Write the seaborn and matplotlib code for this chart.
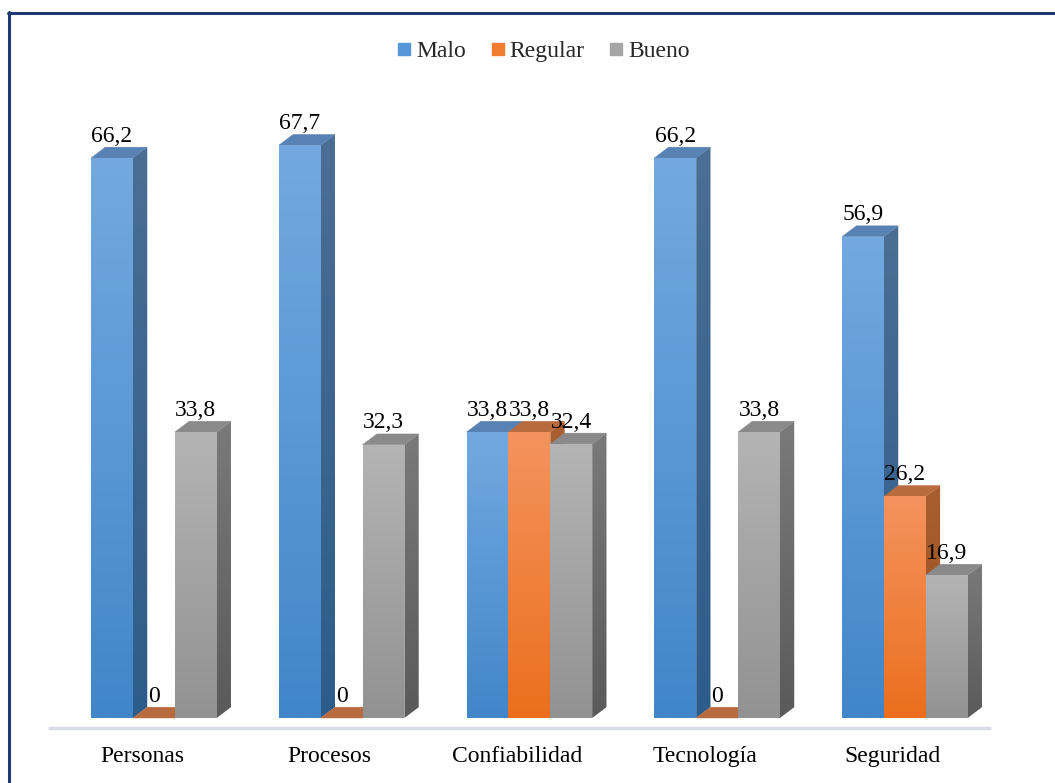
import numpy as np
import pandas as pd
import matplotlib
matplotlib.use("Agg")
import matplotlib.pyplot as plt
import seaborn as sns
from matplotlib.patches import Polygon
from matplotlib.lines import Line2D
from matplotlib.colors import LinearSegmentedColormap

# Data
dimensiones = ["Personas", "Procesos", "Confiabilidad", "Tecnología", "Seguridad"]
niveles = ["Malo", "Regular", "Bueno"]
malo = [66.2, 67.7, 33.8, 66.2, 56.9]
regular = [0, 0, 33.8, 0, 26.2]
bueno = [33.8, 32.3, 32.4, 33.8, 16.9]

df = pd.DataFrame({
    "Dimensión": dimensiones * 3,
    "Nivel": [n for n in niveles for _ in dimensiones],
    "Porcentaje": malo + regular + bueno,
})

# Face colours per level: front (bottom, top), side (bottom, top), top face
estilos = {
    "Malo":    dict(front=("#4186C9", "#73A9E0"), side=("#2E5C8A", "#4B6E94"), top="#5882B3", legend="#5597D8"),
    "Regular": dict(front=("#EB6F1D", "#F4935E"), side=("#964D1C", "#AA5F31"), top="#B96B3F", legend="#F07C2F"),
    "Bueno":   dict(front=("#929292", "#B4B4B4"), side=("#5A5A5A", "#7A7A7A"), top="#8A8A8A", legend="#A5A5A5"),
}

sns.set_theme(style="white")
plt.rcParams["font.family"] = ["Liberation Serif", "DejaVu Serif"]
FS = 17

W, H = 1055, 783
fig = plt.figure(figsize=(W / 100, H / 100), dpi=100)

# Axes geometry (pixels)
ppu = 8.46          # pixels per percentage point
base_px = 718       # pixel row of value 0
top_px = 92
ymin = -1.5
ymax = (base_px - top_px) / ppu
bottom_px = base_px - ymin * ppu
left_px, right_px = 48, 986.75
ax = fig.add_axes([left_px / W, (H - bottom_px) / H,
                   (right_px - left_px) / W, (bottom_px - top_px) / H])

sns.barplot(data=df, x="Dimensión", y="Porcentaje", hue="Nivel",
            order=dimensiones, hue_order=niveles,
            palette=[estilos[n]["legend"] for n in niveles],
            width=0.669, dodge=True, saturation=1, errorbar=None,
            legend=False, ax=ax)

slot_px = (right_px - left_px) / 5
shift = 12 / slot_px          # bars sit slightly right of the category centre
dx = 14.3 / slot_px           # depth offset, x
dy = 10.8 / ppu               # depth offset, y

grad = np.linspace(0, 1, 256).reshape(-1, 1)


def gradient_face(verts, c_bottom, c_top, y0, y1, z):
    poly = Polygon(verts, closed=True, facecolor="none", edgecolor="none",
                   transform=ax.transData, zorder=z)
    ax.add_patch(poly)
    xs = [v[0] for v in verts]
    cmap = LinearSegmentedColormap.from_list("g", [c_bottom, c_top])
    im = ax.imshow(grad, extent=[min(xs), max(xs), y0, y1], origin="lower",
                   aspect="auto", cmap=cmap, zorder=z, interpolation="bilinear")
    im.set_clip_path(poly)


def flat_face(verts, color, z):
    ax.add_patch(Polygon(verts, closed=True, facecolor=color, edgecolor=color,
                         lw=0.3, zorder=z))


bars = []
for j, cont in enumerate(ax.containers):
    nivel = niveles[j]
    for i, rect in enumerate(cont.patches):
        rect.set_x(rect.get_x() + shift)
        rect.set_visible(False)
        bars.append((i, j, nivel, rect.get_x(), rect.get_width(), rect.get_height()))

bars.sort(key=lambda b: (b[0], b[1]))
z = 3
for i, j, nivel, x, w, h in bars:
    st = estilos[nivel]
    if h > 0:
        side = [(x + w, 0), (x + w + dx, dy), (x + w + dx, h + dy), (x + w, h)]
        gradient_face(side, st["side"][0], st["side"][1], 0, h + dy, z)
    top = [(x, h), (x + dx, h + dy), (x + w + dx, h + dy), (x + w, h)]
    flat_face(top, st["top"], z + 1)
    if h > 0:
        front = [(x, 0), (x + w, 0), (x + w, h), (x, h)]
        gradient_face(front, st["front"][0], st["front"][1], 0, h, z + 2)
    z += 3
    etiqueta = f"{h:g}".replace(".", ",")
    ax.annotate(etiqueta, xy=(x + w / 2, h + dy), xytext=(0, 4),
                textcoords="offset points", ha="center", va="baseline",
                fontsize=FS, color="black", zorder=200)

# Floor edge
ax.plot([-0.5, 4.52], [-10 / ppu, -10 / ppu], color="#D9DCE4", lw=2.5,
        solid_capstyle="butt", zorder=1, clip_on=False)

ax.set_xlim(-0.5, 4.5)
ax.set_ylim(ymin, ymax)
ax.set_aspect("auto")
ax.set_yticks([])
ax.set_xlabel("")
ax.set_ylabel("")
ax.tick_params(axis="x", length=0, pad=11, labelsize=FS, colors="black")
for s in ax.spines.values():
    s.set_visible(False)
ax.set_facecolor("none")

# Legend
handles = [Line2D([], [], marker="s", linestyle="none", markersize=8,
                  markerfacecolor=estilos[n]["legend"], markeredgecolor=estilos[n]["legend"])
           for n in niveles]
fig.legend(handles, niveles, loc="center", bbox_to_anchor=(544 / W, 1 - 51 / H),
           ncol=3, frameon=False, fontsize=FS, handlelength=0.5,
           handletextpad=0.25, columnspacing=1.1)

# Frame edges
frame = "#1F3A73"
fig.add_artist(Line2D([8.5 / W, 8.5 / W], [0, 1 - 12 / H], color=frame, lw=2.2))
fig.add_artist(Line2D([7.5 / W, 1], [1 - 12.5 / H, 1 - 12.5 / H], color=frame, lw=2.2))

fig.savefig("out.png", dpi=100, facecolor="white")
